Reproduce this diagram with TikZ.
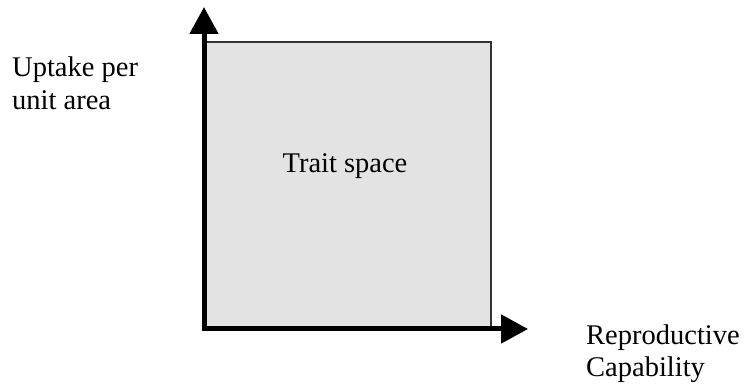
\documentclass[tikz,border=0pt]{standalone}
\usepackage{fontspec}
\setmainfont{Liberation Serif}
\usetikzlibrary{arrows.meta}

\begin{document}
\begin{tikzpicture}[
		x=1pt, y=-1pt,
		lbl/.style={font=\fontsize{28.5}{33}\selectfont, inner sep=0pt},
		axis/.style={line width=5pt, -{Triangle[length=27pt,width=28pt]}}
		]
		\useasboundingbox (0,0) rectangle (748,390);
		
		\coordinate (origin) at (204,329);
		\coordinate (ytip) at (204,7);
		\coordinate (xtip) at (528,329);
		
		\node (space) [draw=black!80, line width=1.5pt, fill=black!11, inner sep=0pt, anchor=south west, minimum width=286pt, minimum height=286pt] at (origin) {};
		\node (trait) [lbl, anchor=base] at (345,173) {Trait space};
		
		\draw [axis] ([yshift=2.5pt]origin) -- (ytip);
		\draw [axis] ([xshift=-2.5pt]origin) -- (xtip);
		
		\node (uptake) [lbl, anchor=base west] at (12,77) {Uptake per};
		\node (area) [lbl, anchor=base west] at (12,110) {unit area};
		\node (repro) [lbl, anchor=base west] at (586,345) {Reproductive};
		\node (capab) [lbl, anchor=base west] at (586,377) {Capability};
	\end{tikzpicture}
\end{document}
